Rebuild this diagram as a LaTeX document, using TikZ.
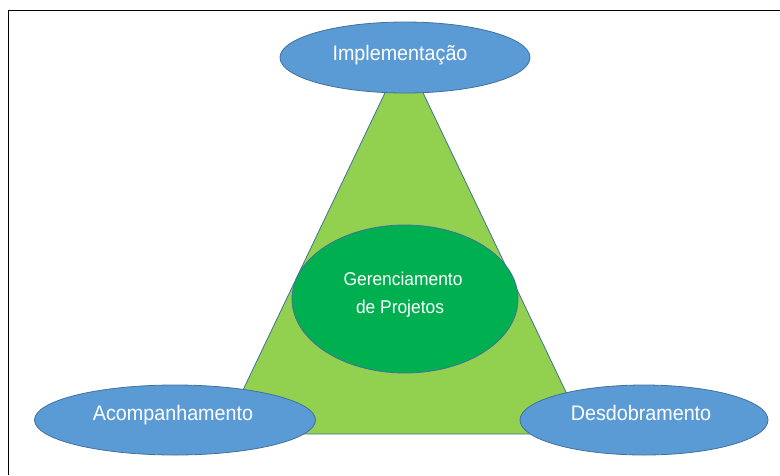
\documentclass[tikz,border=0pt]{standalone}
\usepackage{fontspec}
\setmainfont[FakeStretch=0.94]{Liberation Sans}
\usetikzlibrary{shapes.geometric}
\definecolor{bluefill}{HTML}{5B9BD5}
\definecolor{blueline}{HTML}{41719C}
\definecolor{lightgreen}{HTML}{92D050}
\definecolor{darkgreen}{HTML}{00B050}
\begin{document}
\begin{tikzpicture}[x=1pt,y=-1pt,
  blueell/.style={ellipse, draw=blueline, fill=bluefill, line width=0.8pt, inner sep=0pt},
  greenell/.style={ellipse, draw=blueline, fill=darkgreen, line width=0.8pt, inner sep=0pt},
  lbl/.style={text=white, anchor=base, inner sep=0pt, font=\fontsize{21}{24}\selectfont},
  clbl/.style={text=white, anchor=base, inner sep=0pt, font=\fontsize{18.5}{20}\selectfont}]
\useasboundingbox (0,0) rectangle (780,475);
% frame
\draw[black, line width=1pt] (8.5,475) -- (8.5,10.5) -- (780,10.5);
% triangle
\coordinate (apex) at (404,53);
\coordinate (bl) at (222,434);
\coordinate (br) at (586,434);
\draw[fill=lightgreen, draw=blueline, line width=0.8pt] (apex) -- (bl) -- (br) -- cycle;
% ellipses
\node[greenell, minimum width=226pt, minimum height=148pt] (gp) at (405,299) {};
\node[blueell, minimum width=250pt, minimum height=71pt] (impl) at (405,57.5) {};
\node[blueell, minimum width=281pt, minimum height=70pt] (acomp) at (175,420) {};
\node[blueell, minimum width=248pt, minimum height=70pt] (desd) at (644,420) {};
% texts
\node[lbl] (timpl) at (400,60) {Implementação};
\node[lbl] (tacomp) at (173,420) {Acompanhamento};
\node[lbl] (tdesd) at (641,420) {Desdobramento};
\node[clbl] (tgp1) at (403,285) {Gerenciamento};
\node[clbl] (tgp2) at (400,313) {de Projetos};
\end{tikzpicture}
\end{document}
